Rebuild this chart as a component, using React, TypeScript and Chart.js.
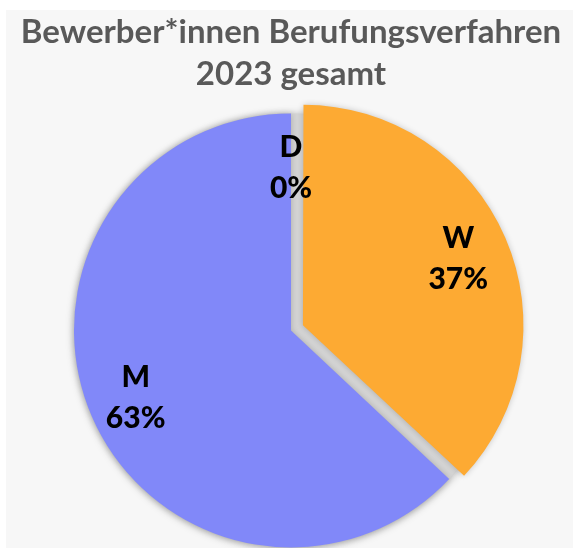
import React, { useEffect, useRef } from "react";
import { Chart, registerables } from "chart.js";

Chart.register(...registerables);

const categories = ["D", "W", "M"];
const values = [0, 37, 63];
const colors = ["#A5A5A5", "#FDAA33", "#8188F9"];
const offsets = [0, 52, 0];
const titleLines = ["Bewerber*innen Berufungsverfahren", "2023 gesamt"];

const FONT = "Lato, 'Open Sans', sans-serif";

const bgPlugin = {
  id: "bgPlugin",
  beforeDraw(chart: any) {
    const { ctx, width, height } = chart;
    ctx.save();
    ctx.fillStyle = "#ffffff";
    ctx.fillRect(0, 0, width, height);
    ctx.fillStyle = "#f7f7f7";
    ctx.fillRect(6, 10, width - 6, height - 10);
    ctx.restore();
  },
  beforeDatasetsDraw(chart: any) {
    const meta = chart.getDatasetMeta(0);
    const arc = meta.data[2];
    if (!arc) return;
    const { x, y, outerRadius } = arc.getProps(["x", "y", "outerRadius"], true);
    const { ctx } = chart;
    ctx.save();
    ctx.shadowColor = "rgba(0,0,0,0.28)";
    ctx.shadowBlur = 8;
    ctx.shadowOffsetY = 1;
    ctx.fillStyle = "#d4d4d4";
    ctx.beginPath();
    ctx.arc(x, y, outerRadius, 0, Math.PI * 2);
    ctx.fill();
    ctx.restore();
    ctx.save();
    ctx.shadowColor = "rgba(0,0,0,0.2)";
    ctx.shadowBlur = 6;
  },
  afterDatasetsDraw(chart: any) {
    const { ctx } = chart;
    ctx.restore();
    const meta = chart.getDatasetMeta(0);
    const total = values.reduce((a, b) => a + b, 0);
    ctx.save();
    ctx.fillStyle = "#000000";
    ctx.font = "900 30px " + FONT;
    ctx.textAlign = "center";
    ctx.textBaseline = "middle";
    meta.data.forEach((el: any, i: number) => {
      const { x, y, startAngle, endAngle, outerRadius } = el.getProps(
        ["x", "y", "startAngle", "endAngle", "outerRadius"],
        true
      );
      const mid = (startAngle + endAngle) / 2;
      const off = (offsets[i] || 0) / 4;
      const r = outerRadius * (values[i] === 0 ? 0.75 : 0.78) + off;
      const cx = x + Math.cos(mid) * r;
      const cy = y + Math.sin(mid) * r;
      const pct = Math.round((values[i] / total) * 100) + "%";
      ctx.fillText(categories[i], cx, cy - 20);
      ctx.fillText(pct, cx, cy + 21);
    });
    ctx.restore();
  },
};

export default function App() {
  const ref = useRef<HTMLCanvasElement>(null);
  useEffect(() => {
    if (!ref.current) return;
    const chart = new Chart(ref.current, {
      type: "pie",
      data: {
        labels: categories,
        datasets: [
          {
            data: values,
            backgroundColor: colors,
            borderWidth: 0,
            offset: offsets,
            clip: false as any,
          },
        ],
      },
      options: {
        animation: false,
        responsive: false,
        radius: 217,
        layout: { padding: { top: 0, bottom: 0, left: 9, right: 0 } },
        plugins: {
          legend: { display: false },
          tooltip: { enabled: false },
          title: {
            display: true,
            text: titleLines,
            color: "#595959",
            font: { family: FONT, size: 33, weight: "bold", lineHeight: 1.27 },
            padding: { top: 11, bottom: 18 },
          },
        },
      } as any,
      plugins: [bgPlugin],
    });
    return () => chart.destroy();
  }, []);
  return (
    <div style={{ position: "absolute", left: 0, top: 0, width: 573, height: 548 }}>
      <canvas ref={ref} width={573} height={548} style={{ width: 573, height: 548 }} />
    </div>
  );
}
